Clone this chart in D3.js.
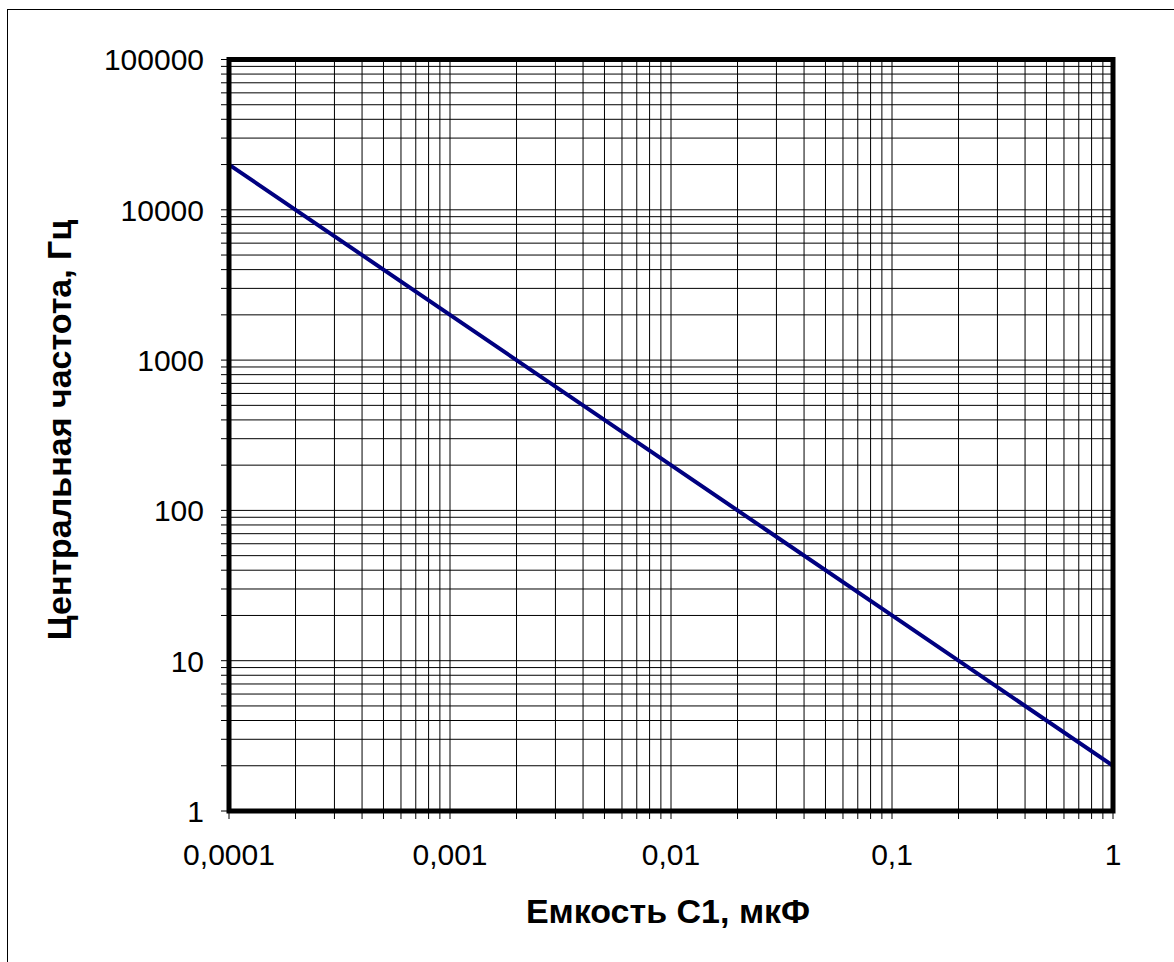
<!DOCTYPE html>
<html><head><meta charset="utf-8">
<script src="https://cdn.jsdelivr.net/npm/d3@7"></script>
<style>body{margin:0;background:#fff}svg{display:block}text{font-family:"Liberation Sans",Arial,sans-serif}</style>
</head><body>
<svg id="c" width="1174" height="962"></svg>
<script>
const xDomain = [0.0001, 1];
const yDomain = [1, 100000];
const capacitance = [0.0001, 0.001, 0.01, 0.1, 1];
const frequency = [20000, 2000, 200, 20, 2];
const xTickLabels = ["0,0001", "0,001", "0,01", "0,1", "1"];
const yTickLabels = ["1", "10", "100", "1000", "10000", "100000"];
const xTitle = "Емкость С1, мкФ";
const yTitle = "Центральная частота, Гц";

const svg = d3.select("#c");
const L = 229, R = 1113, T = 59.5, B = 811;
const x = d3.scaleLog().domain(xDomain).range([L, R]);
const y = d3.scaleLog().domain(yDomain).range([B, T]);

// outer border
svg.append("rect").attr("x", 7.5).attr("y", 9.5).attr("width", 1200).attr("height", 1000)
  .attr("fill", "none").attr("stroke", "#000").attr("stroke-width", 1);

function minorTicks(domain) {
  const out = [];
  for (let e = Math.log10(domain[0]); e < Math.log10(domain[1]); e++) {
    for (let m = 1; m <= 9; m++) out.push(m * Math.pow(10, e));
  }
  out.push(domain[1]);
  return out;
}
const xt = minorTicks(xDomain), yt = minorTicks(yDomain);

// grid
svg.append("g").selectAll("line").data(xt).join("line")
  .attr("x1", d => x(d)).attr("x2", d => x(d)).attr("y1", T).attr("y2", B + 8)
  .attr("stroke", "#000").attr("stroke-width", 1);
svg.append("g").selectAll("line").data(yt).join("line")
  .attr("y1", d => y(d)).attr("y2", d => y(d)).attr("x1", L - 8).attr("x2", R)
  .attr("stroke", "#000").attr("stroke-width", 1);

// series
svg.append("path").datum(capacitance.map((c, i) => [c, frequency[i]]))
  .attr("d", d3.line().x(d => x(d[0])).y(d => y(d[1])))
  .attr("fill", "none").attr("stroke", "#000080").attr("stroke-width", 4);

// frame
svg.append("rect").attr("x", L).attr("y", T).attr("width", R - L).attr("height", B - T)
  .attr("fill", "none").attr("stroke", "#000").attr("stroke-width", 5);

// tick labels
const xAxisVals = xTickLabels.map((t, i) => Math.pow(10, Math.log10(xDomain[0]) + i));
svg.append("g").selectAll("text").data(xTickLabels).join("text")
  .attr("x", (d, i) => x(xAxisVals[i])).attr("y", 865)
  .attr("text-anchor", "middle").attr("font-size", 30).text(d => d);
const yAxisVals = yTickLabels.map((t, i) => Math.pow(10, i));
svg.append("g").selectAll("text").data(yTickLabels).join("text")
  .attr("x", 204).attr("y", (d, i) => y(yAxisVals[i]))
  .attr("dy", "0.36em")
  .attr("text-anchor", "end").attr("font-size", 30).text(d => d);

// titles
svg.append("text").attr("x", 668).attr("y", 923).attr("text-anchor", "middle")
  .attr("font-size", 34).attr("font-weight", "bold").text(xTitle);
svg.append("text").attr("transform", "translate(71,430) rotate(-90)").attr("text-anchor", "middle")
  .attr("font-size", 34).attr("font-weight", "bold").text(yTitle);
</script>
</body></html>
